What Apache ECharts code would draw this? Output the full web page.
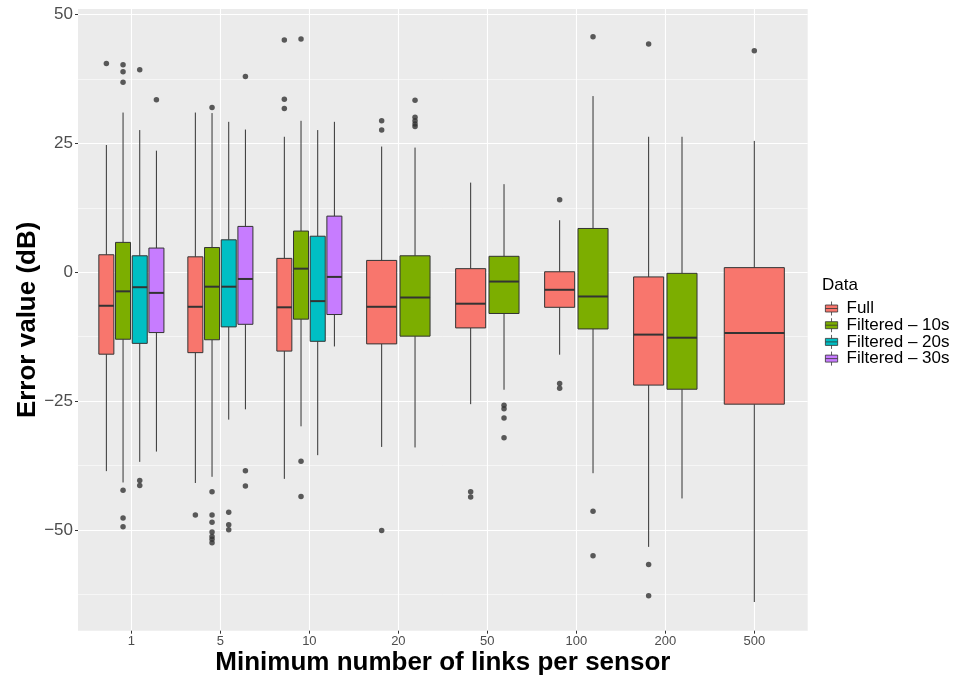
<!DOCTYPE html>
<html><head><meta charset="utf-8">
<script src="https://cdn.jsdelivr.net/npm/echarts@6/dist/echarts.min.js"></script>
<style>html,body{margin:0;padding:0;background:#fff}#c{width:959px;height:675px}</style>
</head><body><div id="c"></div>
<script>
const categories = ['1','5','10','20','50','100','200','500'];
const groupNames = ['Full','Filtered – 10s','Filtered – 20s','Filtered – 30s'];
const groupColors = ['#F8766D','#7CAE00','#00BFC4','#C77CFF'];
// each entry: [lower whisker, Q1, median, Q3, upper whisker]; null = group absent
const fullStats = [
  [-38.6,-15.9,-6.5,3.4,24.7],
  [-40.9,-15.6,-6.7,3.0,31.0],
  [-40.1,-15.3,-6.8,2.7,26.3],
  [-33.9,-13.9,-6.7,2.3,24.4],
  [-25.6,-10.8,-6.1,0.7,17.4],
  [-16.0,-6.8,-3.4,0.1,10.1],
  [-53.3,-21.9,-12.1,-0.9,26.3],
  [-64.0,-25.6,-11.8,0.9,25.5]
];
const filtered10Stats = [
  [-40.8,-13.0,-3.7,5.8,31.0],
  [-39.7,-13.1,-2.8,4.8,30.9],
  [-29.9,-9.1,0.7,8.0,29.4],
  [-34.0,-12.4,-4.9,3.2,24.2],
  [-22.8,-8.0,-1.8,3.1,17.1],
  [-39.0,-11.0,-4.7,8.5,34.2],
  [-43.9,-22.7,-12.7,-0.2,26.3],
  null
];
const filtered20Stats = [
  [-36.8,-13.8,-2.9,3.2,27.6],
  [-28.6,-10.6,-2.8,6.3,29.2],
  [-35.5,-13.4,-5.6,7.0,27.6],
  null, null, null, null, null
];
const filtered30Stats = [
  [-34.8,-11.7,-4.0,4.7,23.6],
  [-26.6,-10.1,-1.3,8.9,27.7],
  [-14.4,-8.2,-0.9,10.9,29.2],
  null, null, null, null, null
];
const fullOutliers = [[40.5],[-47.1],[45.1,33.6,31.8],[29.4,27.6,-50.1],[-42.6,-43.6],[14.1,-21.6,-22.5],[44.3,-56.7,-62.8],[43.0]];
const filtered10Outliers = [[40.3,38.9,36.9,-42.3,-47.7,-49.4],[32.0,-42.6,-47.1,-48.5,-50.4,-51.3,-51.8,-52.5],[45.3,-36.7,-43.5],[33.4,30.1,29.4,28.8,28.3],[-25.8,-26.5,-28.3,-32.1],[45.7,-46.4,-55.0],[],[]];
const filtered20Outliers = [[39.3,-40.4,-41.4],[-46.6,-49.0,-50.0],[],[],[],[],[],[]];
const filtered30Outliers = [[33.5],[38.0,-38.5,-41.5],[],[],[],[],[],[]];
const yTickValues = [-50,-25,0,25,50];
const yMinorValues = [-62.5,-37.5,-12.5,12.5,37.5];

const statsList = [fullStats, filtered10Stats, filtered20Stats, filtered30Stats];
const outlierList = [fullOutliers, filtered10Outliers, filtered20Outliers, filtered30Outliers];
const DODGE = 0.75, PAD = 0.9;
function place(i, g) {
  const present = [];
  statsList.forEach((s, k) => { if (s[i]) present.push(k); });
  const n = present.length, j = present.indexOf(g);
  return { x: i - DODGE / 2 + (j + 0.5) * DODGE / n, w: DODGE / n * PAD };
}
const FONT = 'Liberation Sans, Arial, Helvetica, sans-serif';

function renderBox(params, api) {
  const x = api.value(0), w = api.value(6);
  const lo = api.value(1), q1 = api.value(2), md = api.value(3), q3 = api.value(4), hi = api.value(5);
  const a = api.coord([x - w / 2, q3]), b = api.coord([x + w / 2, q1]);
  const cx = api.coord([x, md])[0];
  const yMd = api.coord([x, md])[1], yHi = api.coord([x, hi])[1], yLo = api.coord([x, lo])[1];
  const color = api.visual('color');
  return { type: 'group', children: [
    { type: 'line', shape: { x1: cx, y1: yHi, x2: cx, y2: a[1] }, style: { stroke: '#333333', lineWidth: 1 } },
    { type: 'line', shape: { x1: cx, y1: b[1], x2: cx, y2: yLo }, style: { stroke: '#333333', lineWidth: 1 } },
    { type: 'rect', shape: { x: a[0], y: a[1], width: b[0] - a[0], height: b[1] - a[1] }, style: { fill: color, stroke: '#333333', lineWidth: 1 } },
    { type: 'line', shape: { x1: a[0], y1: yMd, x2: b[0], y2: yMd }, style: { stroke: '#333333', lineWidth: 2 } }
  ]};
}

const series = [];
groupNames.forEach((name, g) => {
  const data = [];
  statsList[g].forEach((s, i) => {
    if (!s) return;
    const p = place(i, g);
    data.push([p.x, s[0], s[1], s[2], s[3], s[4], p.w]);
  });
  series.push({
    type: 'custom', name: name, renderItem: renderBox,
    itemStyle: { color: groupColors[g] },
    encode: { x: 0, y: [1, 2, 3, 4, 5] },
    data: data, z: 2
  });
});
const outData = [];
outlierList.forEach((ol, g) => {
  ol.forEach((vals, i) => {
    if (!statsList[g][i]) return;
    const p = place(i, g);
    vals.forEach(v => outData.push([p.x, v]));
  });
});
series.push({
  type: 'scatter', name: 'outliers', data: outData, symbolSize: 5.5,
  itemStyle: { color: '#333333' }, silent: true, z: 3
});

const chart = echarts.init(document.getElementById('c'), null, { renderer: 'canvas' });
chart.setOption({
  animation: false,
  textStyle: { fontFamily: FONT },
  title: { text: 'Data', left: 817, top: 272, textStyle: { fontSize: 17, fontWeight: 'normal', color: '#000', fontFamily: FONT } },
  legend: {
    data: groupNames, orient: 'vertical', left: 820, top: 295,
    itemWidth: 14, itemHeight: 14, itemGap: -0.3,
    icon: 'path://M1,4L15,4L15,12L1,12Z M8,0L8,4 M8,12L8,16 M1,8L15,8',
    itemStyle: { borderColor: '#333333', borderWidth: 0.8 },
    textStyle: { fontSize: 17, color: '#000', fontFamily: FONT, padding: [0, 0, 0, 3] },
    selectedMode: false
  },
  grid: { left: 78, top: 9, width: 729.7, height: 621.7, show: true, backgroundColor: '#EBEBEB', borderWidth: 0, containLabel: false, outerBoundsMode: 'none' },
  xAxis: {
    type: 'value', min: -0.6, max: 7.6,
    axisLine: { show: false, onZero: false },
    axisTick: { show: true, customValues: categories.map((_, i) => i), length: 3, lineStyle: { color: '#333333' } },
    axisLabel: { customValues: categories.map((_, i) => i), formatter: v => categories[Math.round(v)], fontSize: 13, color: '#4D4D4D', margin: 4, fontFamily: FONT },
    splitLine: { show: true, lineStyle: { color: '#FFFFFF', width: 1.1 } },
    name: 'Minimum number of links per sensor', nameLocation: 'middle', nameGap: 19, nameMoveOverlap: false,
    nameTextStyle: { fontSize: 26, fontWeight: 'bold', color: '#000', fontFamily: FONT }
  },
  yAxis: [{
    type: 'value', min: -69.57, max: 51.1,
    axisLine: { show: false, onZero: false },
    axisTick: { show: true, customValues: yTickValues, length: 3, lineStyle: { color: '#333333' } },
    axisLabel: { customValues: yTickValues, formatter: v => (v < 0 ? '\u2212' + Math.abs(v) : String(v)), fontSize: 17, color: '#4D4D4D', margin: 5, fontFamily: FONT },
    splitLine: { show: true, lineStyle: { color: '#FFFFFF', width: 1.1 } },
    name: 'Error value (dB)', nameLocation: 'middle', nameGap: 37, nameMoveOverlap: false,
    nameTextStyle: { fontSize: 26, fontWeight: 'bold', color: '#000', fontFamily: FONT }
  }, {
    type: 'value', min: -69.57, max: 51.1, position: 'left',
    axisLine: { show: false, onZero: false },
    axisTick: { show: false, customValues: yMinorValues },
    axisLabel: { show: false, customValues: yMinorValues },
    splitLine: { show: true, lineStyle: { color: '#FFFFFF', width: 0.55 } }
  }],
  series: series
});
</script></body></html>
